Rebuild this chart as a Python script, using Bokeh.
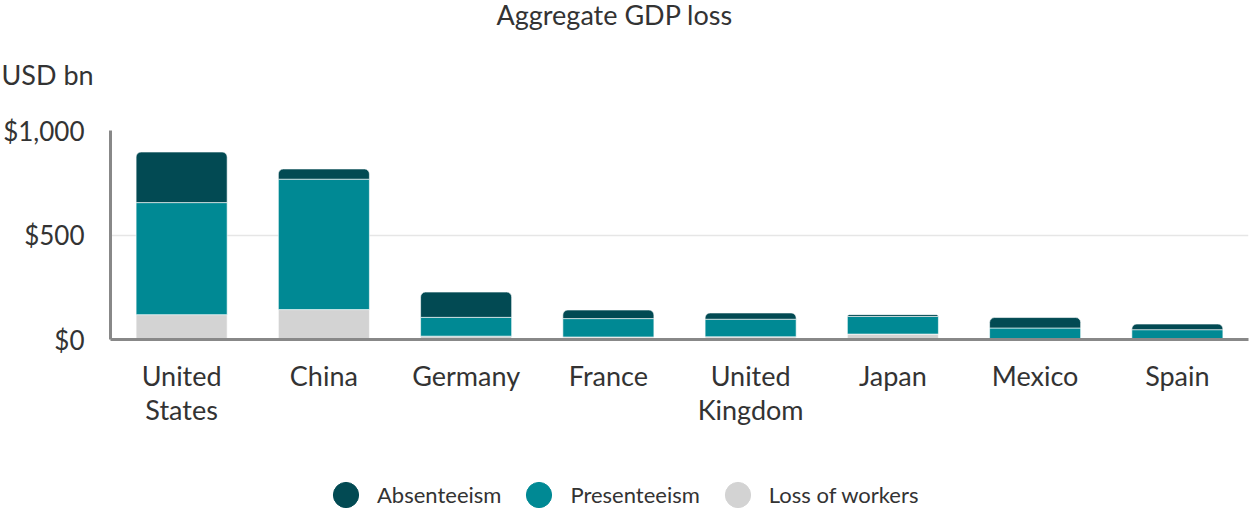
from bokeh.plotting import figure
from bokeh.layouts import column
from bokeh.models import Title, Legend, LegendItem, FactorRange, NumeralTickFormatter, FixedTicker
from bokeh.embed import file_html
from bokeh.resources import INLINE

countries = ["United\nStates", "China", "Germany", "France", "United\nKingdom", "Japan", "Mexico", "Spain"]
loss_of_workers = [119, 143, 16, 12, 13, 26, 2, 1]
presenteeism = [536, 624, 90, 88, 84, 84, 53, 46]
absenteeism = [242, 49, 121, 41, 30, 9, 50, 27]
series = ["Loss of workers", "Presenteeism", "Absenteeism"]
legend_order = ["Absenteeism", "Presenteeism", "Loss of workers"]
colors = {"Absenteeism": "#024a53", "Presenteeism": "#008994", "Loss of workers": "#d3d3d3"}
y_ticks = [0, 500, 1000]
title_text = "Aggregate GDP loss"
unit_text = "USD bn"

FONT = "Lato"
TXT = "#333333"
W = 1251
MAIN_H, LEG_H = 440, 69
LEFT, TOP = 108, 130

# main chart
p = figure(x_range=FactorRange(*countries, range_padding=0), y_range=(0, 1000),
           width=W, height=MAIN_H, output_backend="svg", toolbar_location=None,
           min_border_left=LEFT, min_border_right=3, min_border_top=TOP,
           min_border_bottom=MAIN_H - TOP - 209)
p.outline_line_color = None
p.background_fill_color = "white"
p.border_fill_color = "white"

data = {"c": countries, "Loss of workers": loss_of_workers, "Presenteeism": presenteeism, "Absenteeism": absenteeism}
rs = p.vbar_stack(series, x="c", width=0.64, source=data,
                  color=[colors[s] for s in series], line_color="white", line_width=0.6)
rs[2].glyph.border_radius = (5, 5, 0, 0)

p.xgrid.grid_line_color = None
p.ygrid.grid_line_color = "#e6e6e6"
p.ygrid.grid_line_width = 1.5
p.yaxis.ticker = FixedTicker(ticks=y_ticks)
p.yaxis.formatter = NumeralTickFormatter(format="$0,0")
for ax in (p.xaxis, p.yaxis):
    ax.axis_line_color = "#888888"
    ax.axis_line_width = 3
    ax.major_tick_line_color = None
    ax.minor_tick_line_color = None
    ax.major_label_text_font = FONT
    ax.major_label_text_color = TXT
p.yaxis.major_label_text_font_size = "26px"
p.xaxis.major_label_text_font_size = "27px"
p.xaxis.major_label_text_line_height = 1.05
p.yaxis.major_label_standoff = 20
p.xaxis.major_label_standoff = 13

p.add_layout(Title(text=unit_text, align="left", offset=-1 - LEFT, standoff=79,
                   text_font=FONT, text_font_size="27px", text_font_style="normal",
                   text_color=TXT), "above")
p.add_layout(Title(text=title_text, align="left", offset=494 - LEFT, standoff=-28,
                   text_font=FONT, text_font_size="27px", text_font_style="normal",
                   text_color=TXT), "above")

# legend
lf = figure(width=W, height=LEG_H, output_backend="svg", toolbar_location=None,
            x_range=(0, 1), y_range=(0, 1), x_axis_type=None, y_axis_type=None, min_border=0)
lf.outline_line_color = None
lf.xgrid.grid_line_color = None
lf.ygrid.grid_line_color = None
items = []
for s in legend_order:
    r = lf.scatter(x=[float("nan")], y=[float("nan")], marker="circle", size=25, color=colors[s])
    items.append(LegendItem(label=s, renderers=[r]))
legend = Legend(items=items, orientation="horizontal", location=(204, -17),
                label_text_font=FONT, label_text_font_size="22px", label_text_color=TXT,
                border_line_color=None, background_fill_alpha=0, spacing=6, padding=0, margin=0,
                glyph_width=63, glyph_height=63, label_standoff=0, label_height=24)
lf.add_layout(legend, "center")

open("out.html", "w").write(file_html(column(p, lf, spacing=0), INLINE))
